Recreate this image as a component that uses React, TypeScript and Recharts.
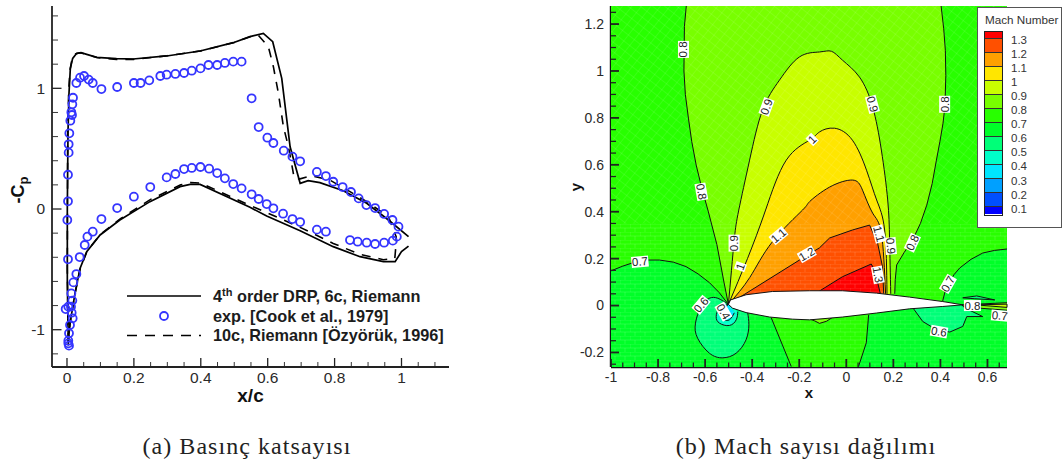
import React from "react";
import { ComposedChart, Line, Scatter, XAxis, YAxis, Legend, Label } from "recharts";

type Pt = { x: number; y: number };
const pts = (list: number[][]): Pt[] => list.map(([x, y]) => ({ x, y }));

// ---------- left panel: pressure coefficient ----------
const expData = pts([
  [0.018, 0.922], [0.016, 0.867], [0.013, 0.801], [0.015, 0.779], [0.01, 0.732], [0.007, 0.627], [0.005, 0.536], [0.005, 0.467], [0.003, 0.284], [0.003, 0.064], [0.001, -0.091],
  [0.028, 1.044], [0.039, 1.088], [0.051, 1.102], [0.065, 1.072], [0.077, 1.044], [0.103, 0.994], [0.15, 1.011], [0.2, 1.044], [0.22, 1.044], [0.246, 1.066], [0.279, 1.102], [0.298, 1.113], [0.324, 1.119], [0.35, 1.127], [0.373, 1.146], [0.399, 1.165], [0.423, 1.193], [0.449, 1.193], [0.472, 1.21], [0.497, 1.221], [0.522, 1.221],
  [0.552, 0.917], [0.573, 0.679], [0.599, 0.591], [0.617, 0.547], [0.648, 0.483], [0.674, 0.434], [0.697, 0.395], [0.747, 0.307], [0.774, 0.273], [0.796, 0.226], [0.824, 0.182], [0.849, 0.141], [0.872, 0.088], [0.895, 0.033], [0.921, 0.008], [0.948, -0.041], [0.973, -0.091], [0.991, -0.146],
  [0.986, -0.229], [0.974, -0.262], [0.948, -0.279], [0.921, -0.29], [0.896, -0.279], [0.869, -0.271], [0.846, -0.257], [0.774, -0.188], [0.747, -0.171], [0.697, -0.108], [0.674, -0.083], [0.646, -0.039], [0.617, 0.006], [0.597, 0.041], [0.573, 0.083], [0.552, 0.122],
  [0.522, 0.171], [0.497, 0.207], [0.472, 0.254], [0.449, 0.298], [0.425, 0.334], [0.399, 0.348], [0.373, 0.34], [0.35, 0.331], [0.324, 0.29], [0.298, 0.262], [0.249, 0.182], [0.2, 0.102], [0.15, 0.008], [0.103, -0.083],
  [0.077, -0.188], [0.061, -0.229], [0.053, -0.298], [0.038, -0.398], [0.028, -0.539], [0.019, -0.608], [0.013, -0.699], [0.016, -0.759], [0.012, -0.809], [0.014, -0.859], [0.017, -0.906], [0.009, -0.961], [0.006, -1.03], [0.004, -1.091], [0.006, -1.132], [0.004, -1.113], [-0.004, -0.829], [0.004, -0.809], [0.003, -0.417],
]);

const drpUpper = pts([
  [0.004, -1.13], [0.001, -0.6], [0.001, 0], [0.003, 0.627], [0.006, 0.958], [0.01, 1.165], [0.017, 1.248], [0.029, 1.29], [0.042, 1.295], [0.059, 1.281], [0.089, 1.257], [0.148, 1.246], [0.198, 1.243], [0.298, 1.268], [0.398, 1.309], [0.497, 1.378], [0.547, 1.428], [0.587, 1.455], [0.615, 1.386], [0.642, 1.083], [0.667, 0.516], [0.697, 0.213], [0.721, 0.235], [0.756, 0.218], [0.826, 0.152], [0.896, 0.047], [0.961, -0.091], [1.021, -0.229],
]);
const drpLower = pts([
  [1.021, -0.307], [1.0, -0.353], [0.981, -0.436], [0.946, -0.436], [0.876, -0.395], [0.796, -0.312], [0.697, -0.18], [0.597, -0.058], [0.547, 0.014], [0.398, 0.204], [0.368, 0.204], [0.338, 0.185], [0.248, 0.061], [0.158, -0.091], [0.099, -0.215], [0.059, -0.353], [0.039, -0.492], [0.024, -0.699], [0.009, -0.947], [0.004, -1.099],
]);

const ozyorukData = pts([
  [0.004, -1.1], [0.001, -0.5], [0.002, 0.6], [0.005, 0.97], [0.009, 1.15], [0.015, 1.24], [0.025, 1.285], [0.04, 1.295], [0.059, 1.28], [0.09, 1.255], [0.148, 1.24], [0.2, 1.24], [0.3, 1.27], [0.4, 1.31], [0.5, 1.38], [0.55, 1.43], [0.572, 1.44], [0.602, 1.345], [0.617, 1.179], [0.632, 0.958], [0.647, 0.682], [0.662, 0.516], [0.675, 0.323], [0.679, 0.254], [0.697, 0.25], [0.731, 0.276], [0.786, 0.24], [0.846, 0.144], [0.896, 0.061], [0.961, -0.063], [0.984, -0.23], [0.984, -0.28], [0.98, -0.41],
  [0.946, -0.42], [0.876, -0.376], [0.796, -0.285], [0.697, -0.152], [0.597, -0.03], [0.547, 0.03], [0.4, 0.215], [0.37, 0.22], [0.34, 0.2], [0.25, 0.08], [0.16, -0.08], [0.1, -0.21], [0.06, -0.35], [0.04, -0.49], [0.024, -0.7], [0.009, -0.95], [0.004, -1.1],
]);

const cpXTicks = [0, 0.05, 0.1, 0.15, 0.2, 0.25, 0.3, 0.35, 0.4, 0.45, 0.5, 0.55, 0.6, 0.65, 0.7, 0.75, 0.8, 0.85, 0.9, 0.95, 1, 1.05, 1.1];
const cpXMajor = [0, 0.2, 0.4, 0.6, 0.8, 1];
const cpYTicks = [-1.2, -1, -0.8, -0.6, -0.4, -0.2, 0, 0.2, 0.4, 0.6, 0.8, 1, 1.2, 1.4, 1.6];
const cpYMajor = [-1, 0, 1];

// ---------- right panel: Mach contours ----------
const plotCorners = pts([[-1, -0.262], [-1, 1.277], [0.683, 1.277], [0.683, -0.262]]);
const meshUpper = pts([[-1, 0.35], [-1, 1.277], [0.683, 1.277], [0.683, 0.35]]);
const meshLower = pts([[-1, -0.262], [-1, 0.35], [0.683, 0.35], [0.683, -0.262]]);

const nose = [-0.501, 0.005];
const line07Left = pts([[-1, 0.148], [-0.95, 0.168], [-0.893, 0.187], [-0.84, 0.194], [-0.794, 0.194], [-0.735, 0.185], [-0.681, 0.166], [-0.63, 0.135], [-0.581, 0.097], [-0.54, 0.055], nose]);
const line07Mid = pts([[-0.319, -0.052], [-0.234, -0.26]]);
const cornerLeft = pts([[-0.234, -0.262], [-1, -0.262]]);
const line07Under = pts([[0.095, -0.04], [0.085, -0.159], [0.052, -0.26]]);
const cornerRight = pts([[0.052, -0.262], [0.683, -0.262]]);
const line07Upper = pts([[0.683, 0.241], [0.63, 0.235], [0.58, 0.224], [0.53, 0.197], [0.482, 0.16], [0.458, 0.132], [0.44, 0.102], [0.42, 0.06], [0.409, 0.017]]);
const line08Left = pts([[-0.68, 1.277], [-0.688, 1.19], [-0.689, 1.101], [-0.69, 1.0], [-0.684, 0.9], [-0.671, 0.799], [-0.657, 0.7], [-0.638, 0.599], [-0.614, 0.5], [-0.586, 0.399], [-0.55, 0.26], [-0.52, 0.1], nose]);
const line08Right = pts([[0.206, 0.05], [0.208, 0.11], [0.214, 0.173], [0.245, 0.225], [0.282, 0.28], [0.315, 0.35], [0.342, 0.428], [0.365, 0.52], [0.383, 0.62], [0.398, 0.7], [0.411, 0.777], [0.417, 0.83], [0.42, 0.875], [0.423, 0.98], [0.421, 1.088], [0.414, 1.18], [0.403, 1.277]]);
const line09 = pts([nose, [-0.488, 0.15], [-0.475, 0.292], [-0.457, 0.407], [-0.411, 0.62], [-0.356, 0.833], [-0.284, 0.961], [-0.199, 1.06], [-0.114, 1.081], [-0.063, 1.084], [-0.016, 1.046], [0.056, 0.974], [0.112, 0.847], [0.149, 0.663], [0.176, 0.45], [0.184, 0.28], [0.189, 0.05]]);
const line10 = pts([nose, [-0.42, 0.2], [-0.343, 0.407], [-0.255, 0.62], [-0.156, 0.705], [-0.114, 0.74], [-0.05, 0.756], [0.026, 0.705], [0.086, 0.577], [0.129, 0.45], [0.163, 0.322], [0.173, 0.05]]);
const line11 = pts([nose, [-0.41, 0.12], [-0.314, 0.272], [-0.186, 0.407], [-0.156, 0.443], [-0.071, 0.505], [0.026, 0.535], [0.069, 0.492], [0.112, 0.394], [0.149, 0.309], [0.167, 0.05]]);
const line12 = pts([nose, [-0.199, 0.194], [-0.114, 0.246], [-0.071, 0.288], [0.026, 0.322], [0.099, 0.343], [0.133, 0.267], [0.154, 0.165], [0.159, 0.05]]);
const line13 = pts([[-0.114, 0.062], [-0.016, 0.123], [0.106, 0.177], [0.12, 0.152], [0.145, 0.05]]);
const lineBump = pts([[-0.156, -0.057], [-0.135, -0.065], [-0.114, -0.076], [-0.084, -0.067], [-0.058, -0.05]]);
const line06Wake = pts([[0.286, -0.014], [0.325, -0.068], [0.383, -0.103], [0.44, -0.113], [0.495, -0.089], [0.512, -0.047], [0.58, -0.047], [0.503, -0.01], [0.491, 0.003]]);
const lineLens = pts([[0.495, 0.033], [0.554, 0.041], [0.631, 0.024], [0.546, 0.029], [0.495, 0.033]]);
const wakeOuterA = pts([[0.491, 0.003], [0.683, 0.012]]);
const wakeOuterB = pts([[0.683, -0.02], [0.55, -0.01], [0.491, 0.003]]);
const wakeInner = pts([[0.55, 0.003], [0.683, 0.006], [0.683, -0.008], [0.55, 0.003]]);
const line06Front = pts([nose, [-0.546, 0.031], [-0.582, 0.031], [-0.617, -0.004], [-0.641, -0.075], [-0.632, -0.139], [-0.582, -0.203], [-0.525, -0.223], [-0.468, -0.203], [-0.426, -0.146], [-0.414, -0.082], [-0.419, -0.032]]);
const line05Front = pts([nose, [-0.539, -0.011], [-0.553, -0.047], [-0.539, -0.075], [-0.497, -0.085], [-0.468, -0.061], [-0.461, -0.026]]);
const line04Front = pts([nose, [-0.526, -0.027], [-0.522, -0.057], [-0.497, -0.061], [-0.476, -0.031]]);
const airfoil = pts([nose, [-0.492, 0.024], [-0.426, 0.046], [-0.314, 0.06], [-0.156, 0.063], [-0.016, 0.063], [0.128, 0.053], [0.269, 0.036], [0.41, 0.017], [0.495, 0.003], [0.41, -0.004], [0.269, -0.014], [0.128, -0.032], [-0.016, -0.049], [-0.156, -0.061], [-0.229, -0.058], [-0.326, -0.049], [-0.426, -0.03], [-0.484, -0.011], nose]);

const machLevels = ["1.3", "1.2", "1.1", "1", "0.9", "0.8", "0.7", "0.6", "0.5", "0.4", "0.3", "0.2", "0.1"];
const machColors = ["#ff0000", "#ff5000", "#ffa000", "#ffe600", "#c8ff00", "#78ff00", "#28ff00", "#00ff28", "#00ff78", "#00ffc8", "#00e6ff", "#00a0ff", "#0050ff", "#0000ff"];
const [c13, c12, c11, c10, c09, c08, c07, c06, c05, c04, c03] = machColors;

const regions = [
  { points: plotCorners, fill: c07 },
  { points: [...line07Left, ...line07Mid, ...cornerLeft], fill: c06 },
  { points: [...line07Under, ...cornerRight, ...line07Upper], fill: c06 },
  { points: [...line08Left, ...line08Right], fill: c08 },
  { points: line09, fill: c09 },
  { points: line10, fill: c10 },
  { points: line11, fill: c11 },
  { points: line12, fill: c12 },
  { points: line13, fill: c13 },
  { points: lineBump, fill: c08 },
  { points: line06Wake, fill: c05 },
  { points: lineLens, fill: c05 },
  { points: [...wakeOuterA, ...wakeOuterB], fill: c08 },
  { points: wakeInner, fill: c09 },
  { points: line06Front, fill: c05 },
  { points: line05Front, fill: c04 },
  { points: line04Front, fill: c03 },
];
const contourLines = [line07Left, line07Mid, line07Under, line07Upper, line08Left, line08Right, line09, line10, line11, line12, line13, lineBump, line06Wake, lineLens, wakeOuterA, wakeOuterB, wakeInner, line06Front, line05Front, line04Front];
const smoothLines = [line09, line10, line11, line06Front, line05Front, line04Front];
const curveOf = (p: Pt[]) => (smoothLines.includes(p) ? "natural" : "linear");

const labelText = ["0.8", "0.8", "0.9", "1", "0.9", "0.8", "0.7", "0.6", "0.4", "0.9", "1", "1.1", "1.2", "1.1", "1.3", "0.9", "0.8", "0.7", "0.6", "0.8", "0.7"];
const labelX = [-0.692, -0.616, -0.339, -0.145, 0.111, 0.418, -0.877, -0.617, -0.522, -0.477, -0.45, -0.288, -0.168, 0.139, 0.134, 0.189, 0.281, 0.432, 0.394, 0.536, 0.652];
const labelY = [1.092, 0.485, 0.847, 0.708, 0.858, 0.858, 0.187, 0.003, -0.026, 0.266, 0.166, 0.298, 0.219, 0.305, 0.131, 0.254, 0.268, 0.092, -0.111, 0, -0.043];
const labelAngle = [-90, 80, -70, -45, 75, -90, -5, -50, 60, -90, -70, -40, -30, 75, 80, 85, -65, -60, 10, 0, 5];
const contourLabels = labelText.map((text, i) => ({ x: labelX[i], y: labelY[i], text, angle: labelAngle[i] }));

const machXTicks = [-1, -0.95, -0.9, -0.85, -0.8, -0.75, -0.7, -0.65, -0.6, -0.55, -0.5, -0.45, -0.4, -0.35, -0.3, -0.25, -0.2, -0.15, -0.1, -0.05, 0, 0.05, 0.1, 0.15, 0.2, 0.25, 0.3, 0.35, 0.4, 0.45, 0.5, 0.55, 0.6, 0.65];
const machXMajor = [-1, -0.8, -0.6, -0.4, -0.2, 0, 0.2, 0.4, 0.6];
const machYTicks = [-0.25, -0.2, -0.15, -0.1, -0.05, 0, 0.05, 0.1, 0.15, 0.2, 0.25, 0.3, 0.35, 0.4, 0.45, 0.5, 0.55, 0.6, 0.65, 0.7, 0.75, 0.8, 0.85, 0.9, 0.95, 1, 1.05, 1.1, 1.15, 1.2, 1.25];
const machYMajor = [-0.2, 0, 0.2, 0.4, 0.6, 0.8, 1, 1.2];

const FONT = "'Liberation Sans', Arial, sans-serif";
const INK = "#222";
const NoShape = () => <g />;

const BottomTick = ({ x, y, payload, major, size, len, minorLen, drop, sw }: any) => {
  const isMajor = major.includes(payload.value);
  return (
    <g>
      <line x1={x} x2={x} y1={y} y2={y - (isMajor ? len : minorLen)} stroke={INK} strokeWidth={isMajor ? sw : sw * 0.7} />
      {isMajor && <text x={x} y={y + drop} textAnchor="middle" fontFamily={FONT} fontSize={size} fill="#2a2a2a">{payload.value}</text>}
    </g>
  );
};

const LeftTick = ({ x, y, payload, major, size, len, minorLen, sw }: any) => {
  const isMajor = major.includes(payload.value);
  return (
    <g>
      <line x1={x} x2={x + (isMajor ? len : minorLen)} y1={y} y2={y} stroke={INK} strokeWidth={isMajor ? sw : sw * 0.7} />
      {isMajor && <text x={x - 7} y={y + size * 0.35} textAnchor="end" fontFamily={FONT} fontSize={size} fill="#2a2a2a">{payload.value}</text>}
    </g>
  );
};

const ContourLabel = ({ cx, cy, payload }: any) => {
  const w = payload.text.length === 1 ? 8 : 17;
  return (
    <g transform={`rotate(${payload.angle} ${cx} ${cy})`}>
      <rect x={cx - w / 2} y={cy - 5.5} width={w} height={11} fill="#fff" />
      <text x={cx} y={cy + 4} textAnchor="middle" fontFamily={FONT} fontSize={11.5} fill="#222">{payload.text}</text>
    </g>
  );
};

const ExpCircle = ({ cx, cy }: any) => <circle cx={cx} cy={cy} r={4} fill="none" stroke="#3535ff" strokeWidth={1.8} />;

const CpLegend = () => (
  <div style={{ fontFamily: FONT, fontWeight: 700, fontSize: 16.3, color: "#1c1c1c", position: "relative", width: 320, height: 60 }}>
    <svg width={90} height={60} style={{ position: "absolute", left: 0, top: 0 }}>
      <line x1={0} x2={74} y1={9} y2={9} stroke="#000" strokeWidth={1.7} />
      <circle cx={37} cy={29} r={4} fill="none" stroke="#3535ff" strokeWidth={1.8} />
      <line x1={0} x2={74} y1={48.5} y2={48.5} stroke="#000" strokeWidth={1.7} strokeDasharray="10 8" />
    </svg>
    <div style={{ position: "absolute", left: 86, top: 0, whiteSpace: "nowrap", lineHeight: "18px" }}>4<sup style={{ fontSize: 11, lineHeight: 0 }}>th</sup> order DRP, 6c, Riemann</div>
    <div style={{ position: "absolute", left: 86, top: 20, whiteSpace: "nowrap", lineHeight: "18px" }}>exp. [Cook et al., 1979]</div>
    <div style={{ position: "absolute", left: 86, top: 39, whiteSpace: "nowrap", lineHeight: "18px" }}>10c, Riemann [Özyörük, 1996]</div>
  </div>
);

const MachLegend = () => (
  <div style={{ width: 85, height: 221, background: "#fff", border: "1px solid #555", boxSizing: "border-box", position: "relative", fontFamily: FONT, color: "#333", fontSize: 11.5 }}>
    <div style={{ position: "absolute", left: 7, top: 5, fontSize: 11.7, whiteSpace: "nowrap" }}>Mach Number</div>
    <div style={{ position: "absolute", left: 6, top: 23, width: 18.5, border: "1px solid #222", boxSizing: "border-box", height: 185 }}>
      {machColors.map((c, i) => (
        <div key={c} style={{ height: i === 0 || i === 13 ? 7 : 14, boxSizing: "border-box", background: c, borderBottom: i === 13 ? "none" : "1px solid #333" }} />
      ))}
    </div>
    {machLevels.map((m, i) => (
      <div key={m} style={{ position: "absolute", left: 33, top: 26 + i * 14.05, lineHeight: "13px" }}>{m}</div>
    ))}
  </div>
);

const CpTitle = () => (
  <text transform="rotate(-90 24 190)" x={24} y={190} textAnchor="middle" fontFamily={FONT} fontWeight={700} fontSize={18} fill="#111">
    -C<tspan fontSize={13} dy={4}>p</tspan>
  </text>
);

const legendProps = { layout: "horizontal", align: "center", verticalAlign: "middle" } as const;

const caption = (left: number, width: number, text: string) => (
  <div style={{ position: "absolute", left, width, top: 433, textAlign: "center", fontFamily: "'Liberation Serif', serif", fontSize: 24, letterSpacing: 1.05, color: "#222", whiteSpace: "nowrap" }}>{text}</div>
);

export default function App() {
  return (
    <div style={{ position: "absolute", left: 0, top: 0, width: 1062, height: 468, overflow: "hidden", background: "#fff" }}>
      <div style={{ position: "absolute", left: 0, top: 0 }}>
        <ComposedChart width={500} height={468} margin={{ top: 6, right: 51, bottom: 71, left: 12 }}>
          <Line data={drpUpper} dataKey="y" name="4th order DRP, 6c, Riemann" dot={false} stroke="#000" strokeWidth={1.7} isAnimationActive={false} />
          <Line data={drpLower} dataKey="y" dot={false} stroke="#000" strokeWidth={1.7} isAnimationActive={false} />
          <Line data={ozyorukData} dataKey="y" name="10c, Riemann [Özyörük, 1996]" dot={false} stroke="#000" strokeWidth={1.6} strokeDasharray="9 8" isAnimationActive={false} />
          <Scatter data={expData} dataKey="y" name="exp. [Cook et al., 1979]" shape={ExpCircle} isAnimationActive={false} />
          <XAxis type="number" dataKey="x" domain={[-0.0448, 1.142]} ticks={cpXTicks} interval={0} height={30} tickSize={0} tickMargin={0} axisLine={{ stroke: INK, strokeWidth: 1.8 }} tickLine={false}
            tick={(p: any) => <BottomTick {...p} major={cpXMajor} size={15.5} len={9} minorLen={5} drop={16} sw={1.3} />}>
            <Label value="x/c" position="bottom" offset={-8} fontFamily={FONT} fontWeight={700} fontSize={19} fill="#111" />
          </XAxis>
          <YAxis type="number" dataKey="y" domain={[-1.309, 1.682]} ticks={cpYTicks} interval={0} width={40} tickSize={0} tickMargin={0} axisLine={{ stroke: INK, strokeWidth: 1.8 }} tickLine={false}
            tick={(p: any) => <LeftTick {...p} major={cpYMajor} size={15.5} len={9.5} minorLen={6} sw={1.3} />}>
            <Label content={CpTitle} />
          </YAxis>
          <Legend {...legendProps} content={CpLegend} wrapperStyle={{ left: 127, top: 287, width: 320, height: 60 }} />
        </ComposedChart>
      </div>

      <div style={{ position: "absolute", left: 560, top: 0 }}>
        <ComposedChart width={502} height={468} margin={{ top: 6, right: 55, bottom: 71, left: 11 }}>
          <defs>
            <pattern id="meshFar" width={7.5} height={7.5} patternUnits="userSpaceOnUse" patternTransform="rotate(38)">
              <path d="M0 0H7.5M0 0V7.5" stroke="#fff" strokeOpacity={0.2} strokeWidth={0.8} fill="none" />
            </pattern>
            <pattern id="meshNear" width={10} height={8} patternUnits="userSpaceOnUse">
              <path d="M0 0H10M0 4H10M0 0V4M5 4V8" stroke="#fff" strokeOpacity={0.17} strokeWidth={0.8} fill="none" />
            </pattern>
          </defs>
          {regions.map((r, i) => (
            <Scatter key={`fill${i}`} data={r.points} dataKey="y" shape={NoShape} lineJointType={curveOf(r.points)} line={{ stroke: "none", fill: r.fill }} isAnimationActive={false} />
          ))}
          <Scatter data={meshUpper} dataKey="y" shape={NoShape} line={{ stroke: "none", fill: "url(#meshFar)" }} isAnimationActive={false} />
          <Scatter data={meshLower} dataKey="y" shape={NoShape} line={{ stroke: "none", fill: "url(#meshNear)" }} isAnimationActive={false} />
          {contourLines.map((l, i) => (
            <Scatter key={`line${i}`} data={l} dataKey="y" shape={NoShape} lineJointType={curveOf(l)} line={{ stroke: "#111", strokeWidth: 1, fill: "none" }} isAnimationActive={false} />
          ))}
          <Scatter data={airfoil} dataKey="y" shape={NoShape} line={{ stroke: "#111", strokeWidth: 1, fill: "#fff" }} isAnimationActive={false} />
          <Scatter data={contourLabels} dataKey="y" shape={ContourLabel} isAnimationActive={false} />
          <XAxis type="number" dataKey="x" domain={[-1, 0.683]} ticks={machXTicks} interval={0} height={30} tickSize={0} tickMargin={0} axisLine={{ stroke: "#111", strokeWidth: 2.4 }} tickLine={false}
            tick={(p: any) => <BottomTick {...p} major={machXMajor} size={14} len={8} minorLen={4.5} drop={15} sw={1.8} />}>
            <Label value="x" position="bottom" offset={-10} fontFamily={FONT} fontWeight={700} fontSize={15} fill="#111" />
          </XAxis>
          <YAxis type="number" dataKey="y" domain={[-0.262, 1.277]} ticks={machYTicks} interval={0} width={40} tickSize={0} tickMargin={0} axisLine={{ stroke: "#111", strokeWidth: 2.4 }} tickLine={false}
            tick={(p: any) => <LeftTick {...p} major={machYMajor} size={14} len={8} minorLen={5} sw={1.8} />}>
            <Label content={() => <text transform="rotate(-90 21 187)" x={21} y={187} textAnchor="middle" fontFamily={FONT} fontWeight={700} fontSize={15} fill="#111">y</text>} />
          </YAxis>
          <Legend {...legendProps} content={MachLegend} wrapperStyle={{ left: 417, top: 7, width: 85, height: 221 }} />
        </ComposedChart>
      </div>

      {caption(97, 300, "(a) Basınç katsayısı")}
      {caption(656, 300, "(b) Mach sayısı dağılımı")}
    </div>
  );
}
